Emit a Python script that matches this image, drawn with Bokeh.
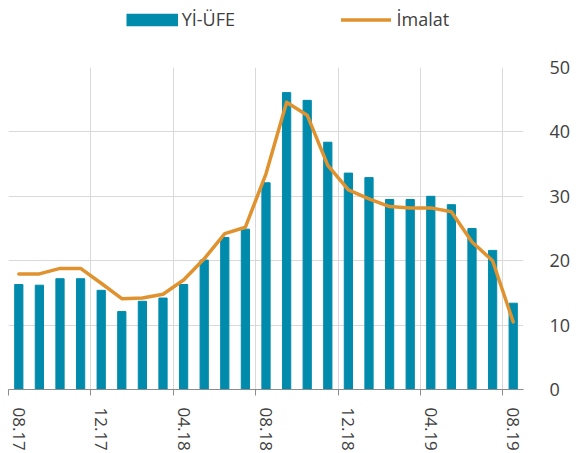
import numpy as np
from bokeh.plotting import figure
from bokeh.layouts import column
from bokeh.models import Range1d, FixedTicker, Legend, LegendItem
from bokeh.embed import file_html
from bokeh.resources import INLINE

# ---- data ----
months = ["08.17", "09.17", "10.17", "11.17", "12.17", "01.18", "02.18", "03.18",
          "04.18", "05.18", "06.18", "07.18", "08.18", "09.18", "10.18", "11.18",
          "12.18", "01.19", "02.19", "03.19", "04.19", "05.19", "06.19", "07.19",
          "08.19"]
yi_ufe = [16.3, 16.2, 17.2, 17.2, 15.4, 12.1, 13.7, 14.2, 16.3, 20.1, 23.6, 24.9,
          32.1, 46.1, 44.9, 38.4, 33.6, 32.9, 29.5, 29.5, 30.0, 28.7, 25.0, 21.6, 13.4]
imalat = [17.95, 17.95, 18.8, 18.8, 16.5, 14.1, 14.2, 14.8, 17.0, 20.3, 24.2, 25.2,
          33.5, 44.6, 42.6, 34.8, 31.0, 29.6, 28.4, 28.2, 28.2, 27.6, 22.9, 20.0, 10.5]
tick_labels = ["08.17", "12.17", "04.18", "08.18", "12.18", "04.19", "08.19"]
series_names = ["Yİ-ÜFE", "İmalat"]
y_ticks = [0, 10, 20, 30, 40, 50]

BLUE = "#008BAD"
ORANGE = "#E0922F"
GRID = "#D9D9D9"
AXIS = "#8C8C8C"
TEXT = "#404040"
FONT = "Open Sans"

n = len(months)
x = np.arange(n) + 0.5
label_idx = [months.index(t) for t in tick_labels]

# ---- legend strip (separate figure so nothing is clipped) ----
LH = 45
lf = figure(width=580, height=LH, x_range=Range1d(0, 1), y_range=Range1d(0, 1),
            x_axis_location=None, y_axis_location=None, output_backend="svg",
            toolbar_location=None, min_border=0)
lf.outline_line_color = None
lf.grid.visible = False
# one off-range point each, so the legend has a glyph to draw
sw_bar = lf.line([-1], [-1], line_color=BLUE, line_width=12.3, line_cap="butt")
sw_line = lf.line([-1], [-1], line_color=ORANGE, line_width=3.5, line_cap="round")
common = dict(padding=0, margin=0, border_line_color=None, background_fill_alpha=0,
              label_text_font=FONT, label_text_font_size="18px",
              label_text_color=TEXT, glyph_height=25, label_height=25)
lf.add_layout(Legend(items=[LegendItem(label=series_names[0], renderers=[sw_bar])],
                     location=(117.7, 13.5), glyph_width=52, label_standoff=4,
                     **common))
lf.add_layout(Legend(items=[LegendItem(label=series_names[1], renderers=[sw_line])],
                     location=(332.5, 13.5), glyph_width=50, label_standoff=6,
                     **common))

# ---- main chart ----
p = figure(width=580, height=453 - LH, x_range=Range1d(0, n), y_range=Range1d(0, 50),
           y_axis_location="right", output_backend="svg", toolbar_location=None,
           min_border_left=8, min_border_right=57, min_border_top=67 - LH,
           min_border_bottom=63)
p.outline_line_color = None

bars = p.vbar(x=x, top=yi_ufe, width=0.4, color=BLUE)
line = p.line(x, imalat, line_color=ORANGE, line_width=3.5,
              line_join="round", line_cap="round")

# x axis
xa = p.xaxis[0]
xa.ticker = FixedTicker(ticks=[i + 0.5 for i in label_idx],
                        minor_ticks=[float(i) for i in label_idx])
xa.major_label_overrides = {i + 0.5: months[i] for i in label_idx}
xa.major_tick_line_color = None
xa.major_tick_out = 0
xa.major_tick_in = 0
xa.minor_tick_out = 6
xa.minor_tick_in = 0
xa.minor_tick_line_color = AXIS
xa.axis_line_color = AXIS
xa.major_label_orientation = "vertical"
xa.major_label_standoff = 12
xa.major_label_text_font = FONT
xa.major_label_text_font_size = "17px"
xa.major_label_text_color = TEXT

# y axis
ya = p.yaxis[0]
ya.ticker = FixedTicker(ticks=y_ticks)
ya.axis_line_color = None
ya.major_tick_line_color = None
ya.minor_tick_line_color = None
ya.major_label_standoff = 20
ya.major_label_text_font = FONT
ya.major_label_text_font_size = "18px"
ya.major_label_text_color = TEXT

# grids
p.xgrid.ticker = FixedTicker(ticks=[float(i) for i in label_idx])
p.ygrid.ticker = FixedTicker(ticks=y_ticks)
p.xgrid.grid_line_color = GRID
p.ygrid.grid_line_color = GRID

layout = column(lf, p, spacing=0)
open("out.html", "w").write(file_html(layout, INLINE))
